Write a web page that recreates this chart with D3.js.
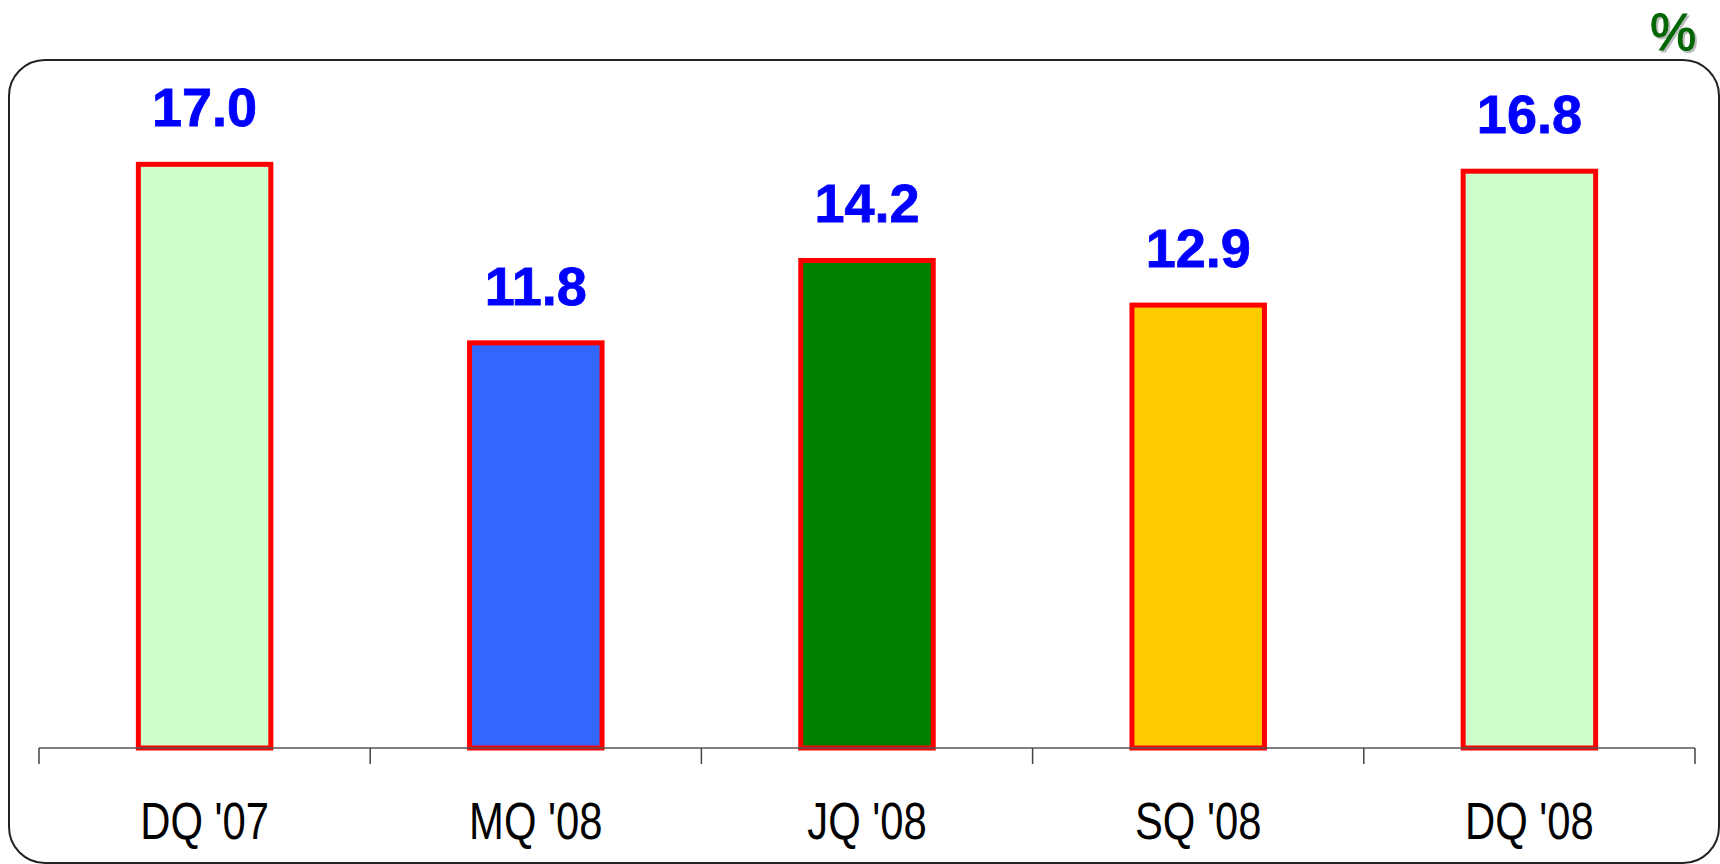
<!DOCTYPE html>
<html>
<head>
<meta charset="utf-8">
<script src="https://cdn.jsdelivr.net/npm/d3@7"></script>
<style>
  body { margin: 0; background: #fff; }
  svg { display: block; }
</style>
</head>
<body>
<script>
var quarters = ["DQ '07", "MQ '08", "JQ '08", "SQ '08", "DQ '08"];
var values = [17.0, 11.8, 14.2, 12.9, 16.8];
var fills = ["#CCFFCC", "#3366FF", "#008000", "#FFCC00", "#CCFFCC"];

var W = 1720, H = 864;
var axisY = 748, left = 39, right = 1695;

var svg = d3.select("body").append("svg")
  .attr("width", W)
  .attr("height", H);

// rounded frame
svg.append("rect")
  .attr("x", 9).attr("y", 60)
  .attr("width", 1710).attr("height", 803)
  .attr("rx", 36).attr("ry", 36)
  .attr("fill", "none")
  .attr("stroke", "#222")
  .attr("stroke-width", 2);

var x = d3.scaleBand().domain(quarters).range([left, right]).paddingInner(0.6).paddingOuter(0.3);
var y = d3.scaleLinear().domain([0, 18]).range([axisY, 130]);

// bars
svg.selectAll("rect.bar").data(values).enter()
  .append("rect")
  .attr("class", "bar")
  .attr("x", function(d, i) { return x(quarters[i]); })
  .attr("y", function(d) { return y(d); })
  .attr("width", x.bandwidth())
  .attr("height", function(d) { return axisY - y(d); })
  .attr("fill", function(d, i) { return fills[i]; })
  .attr("stroke", "#FF0000")
  .attr("stroke-width", 5);

// x axis with ticks between categories
var step = (right - left) / quarters.length;
var ticks = d3.range(quarters.length + 1).map(function(i) { return left + i * step; });

svg.append("line")
  .attr("x1", left).attr("x2", right)
  .attr("y1", axisY).attr("y2", axisY)
  .attr("stroke", "#555").attr("stroke-width", 1.5);

svg.selectAll("line.tick").data(ticks).enter()
  .append("line")
  .attr("class", "tick")
  .attr("x1", function(d) { return d; }).attr("x2", function(d) { return d; })
  .attr("y1", axisY).attr("y2", axisY + 16)
  .attr("stroke", "#444").attr("stroke-width", 1.5);

// category labels (narrow face: Liberation Sans squeezed horizontally)
svg.selectAll("text.cat").data(quarters).enter()
  .append("text")
  .attr("class", "cat")
  .attr("transform", function(d) { return "translate(" + (x(d) + x.bandwidth() / 2) + ",839) scale(0.82,1)"; })
  .attr("text-anchor", "middle")
  .style("font-family", "'Liberation Sans', Arial, sans-serif")
  .style("font-size", "51px")
  .attr("fill", "#000")
  .text(function(d) { return d; });

// value labels
svg.selectAll("text.val").data(values).enter()
  .append("text")
  .attr("class", "val")
  .attr("x", function(d, i) { return x(quarters[i]) + x.bandwidth() / 2; })
  .attr("y", function(d) { return y(d) - 38; })
  .attr("text-anchor", "middle")
  .style("font-family", "'Liberation Sans', Arial, sans-serif")
  .style("font-weight", "bold")
  .style("font-size", "54px")
  .attr("fill", "#0000FF")
  .attr("stroke", "#0000FF")
  .attr("stroke-width", 0.8)
  .text(function(d) { return d.toFixed(1); });

// unit marker with shadow
svg.append("text")
  .attr("x", 1675).attr("y", 52)
  .attr("text-anchor", "middle")
  .style("font-family", "'Liberation Sans', Arial, sans-serif")
  .style("font-size", "52px")
  .attr("fill", "#bbb")
  .attr("stroke", "#bbb").attr("stroke-width", 1)
  .text("%");
svg.append("text")
  .attr("x", 1673).attr("y", 50)
  .attr("text-anchor", "middle")
  .style("font-family", "'Liberation Sans', Arial, sans-serif")
  .style("font-size", "52px")
  .attr("fill", "#006600")
  .attr("stroke", "#006600").attr("stroke-width", 1)
  .text("%");
</script>
</body>
</html>
